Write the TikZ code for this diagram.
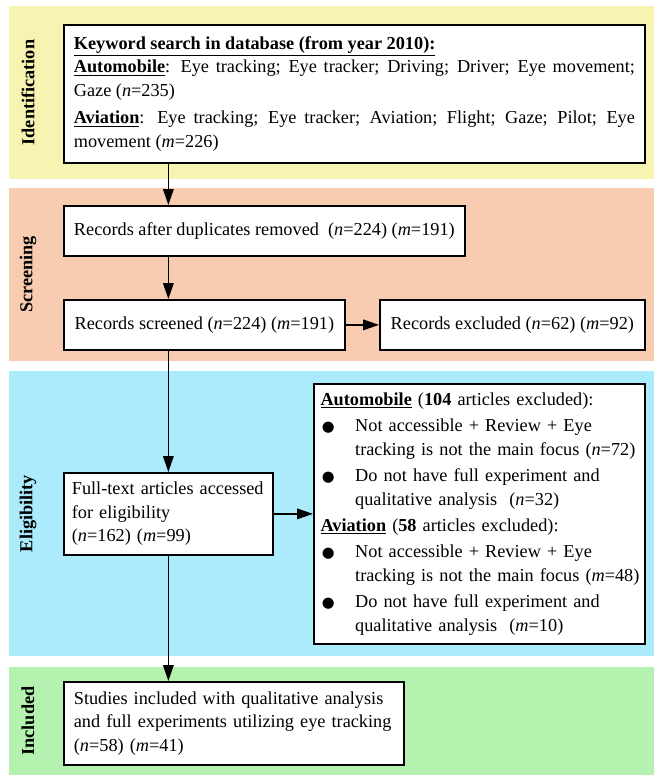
\documentclass[tikz,border=0pt]{standalone}
\usepackage{fontspec}
\setmainfont{Liberation Serif}
\newfontfamily\dotfont{DejaVu Sans}
\usepackage{xcolor}
\usepackage{tikz}
\usetikzlibrary{arrows.meta, positioning}

\definecolor{idfill}{HTML}{F7F4B1}
\definecolor{scrfill}{HTML}{F8CCB0}
\definecolor{eligfill}{HTML}{ABEBFC}
\definecolor{incfill}{HTML}{B5F2B0}

\newcommand{\bodyfont}{\fontsize{13.7}{17.6}\selectfont}
\newcommand{\ulb}[1]{\raisebox{0pt}[\height][0pt]{\underline{\textbf{#1}}}}
\newcommand{\bpt}[2]{\par\hangindent=26pt\hangafter=1\noindent\makebox[26pt][l]{\hspace{1pt}\raisebox{0pt}[0pt][0pt]{\dotfont\fontsize{11}{11}\selectfont ●}}#1\newline\mbox{#2}\par}

\begin{document}
\begin{tikzpicture}[x=0.75pt, y=-0.75pt,
    box/.style={draw, line width=1.3pt, fill=white, inner xsep=7.5pt, inner ysep=0pt,
      anchor=north west, font=\bodyfont},
    phase/.style={rotate=90, font=\bodyfont\bfseries},
    arr/.style={-{Triangle[length=12pt, width=8pt]}, line width=1pt}]
    \useasboundingbox (0,0) rectangle (654,776);

    % phase bands
    \fill[idfill] (9,6) rectangle (654,179);
    \fill[scrfill] (9,188) rectangle (654,361);
    \fill[eligfill] (9,371) rectangle (654,656);
    \fill[incfill] (9,667) rectangle (654,775);

    \node[phase] (pid) at (28,92.5) {Identification};
    \node[phase] (pscr) at (28,274.5) {Screening};
    \node[phase] (pelig) at (28,513.5) {Eligibility};
    \node[phase] (pinc) at (28,721) {Included};

    % boxes
    \node[box, text width=420.75pt, align=justify, minimum height=103.5pt] (kw) at (63,24)
      {\setlength{\parskip}{3pt}%
       \ulb{Keyword search in database (from year 2010):}\newline
       \ulb{Automobile}: Eye tracking; Eye tracker; Driving; Driver; Eye movement;\linebreak
       Gaze (\textit{n}=235)\par
       \ulb{Aviation}: Eye tracking; Eye tracker; Aviation; Flight; Gaze; Pilot; Eye\linebreak
       movement (\textit{m}=226)};
    \node[box, minimum width=300.75pt, minimum height=37.5pt] (dup) at (63,205)
      {Records after duplicates removed\ \ (\textit{n}=224) (\textit{m}=191)};
    \node[box, minimum width=210.75pt, minimum height=37.5pt] (scr) at (63,299)
      {Records screened (\textit{n}=224) (\textit{m}=191)};
    \node[box, minimum width=198.75pt, minimum height=37.5pt] (exc) at (379,299)
      {Records excluded (\textit{n}=62) (\textit{m}=92)};
    \node[box, text width=144.75pt, inner xsep=6pt, align=left, minimum height=61.5pt] (full) at (63,472)
      {Full-text articles accessed\\ for eligibility\\ (\textit{n}=162) (\textit{m}=99)};
    \node[box, text width=238.25pt, inner xsep=5pt, align=left, minimum height=195pt] (elig) at (313,383)
      {\setlength{\parskip}{2.2pt}%
       \noindent\ulb{Automobile} (\textbf{104} articles excluded):
       \bpt{Not accessible + Review + Eye}{tracking is not the main focus (\textit{n}=72)}
       \bpt{Do not have full experiment and}{qualitative analysis\ \ (\textit{n}=32)}
       \noindent\ulb{Aviation} (\textbf{58} articles excluded):
       \bpt{Not accessible + Review + Eye}{tracking is not the main focus (\textit{m}=48)}
       \bpt{Do not have full experiment and}{qualitative analysis\ \ (\textit{m}=10)}};
    \node[box, text width=240pt, align=left, minimum height=62.25pt] (incl) at (63,681)
      {Studies included with qualitative analysis\\ and full experiments utilizing eye tracking\\ (\textit{n}=58) (\textit{m}=41)};

    \path[arr]
      (kw.south -| full) edge (dup.north -| full)
      (dup.south -| full) edge (scr.north -| full)
      (scr.east) edge (exc.west)
      (scr.south -| full) edge (full.north)
      (full.east) edge (full.east -| elig.west)
      (full.south) edge (incl.north -| full);
\end{tikzpicture}
\end{document}
